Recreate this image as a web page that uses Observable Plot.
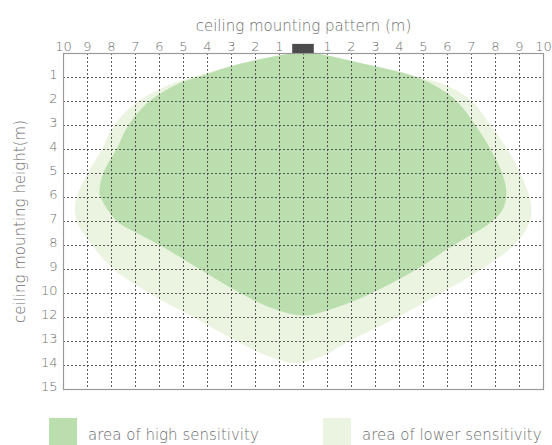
<!DOCTYPE html>
<html>
<head>
<meta charset="utf-8">
<script src="https://cdn.jsdelivr.net/npm/d3@7"></script>
<script src="https://cdn.jsdelivr.net/npm/@observablehq/plot@0.6"></script>
<style>
  html, body { margin: 0; padding: 0; background: #fff; }
  #wrap { width: 552px; height: 445px; position: relative; overflow: hidden; font-family: 'DejaVu Sans', sans-serif; font-weight: 200; color: #6e6e6e; }
  .legend { position: absolute; left: 0; top: 400px; width: 552px; height: 45px; }
  .item { position: absolute; top: 18px; display: flex; align-items: flex-end; }
  .sw { width: 28px; height: 27px; }
  .lab { font-size: 15px; margin-left: 11px; line-height: 15px; padding-bottom: 2px; }
</style>
</head>
<body>
<div id="wrap"></div>
<script>
// ---- data ----
const xTitle = "ceiling mounting pattern (m)";
const yTitle = "ceiling mounting height(m)";
const xTicks = [-10, -9, -8, -7, -6, -5, -4, -3, -2, -1, 1, 2, 3, 4, 5, 6, 7, 8, 9, 10];
const xGrid = [-9, -8, -7, -6, -5, -4, -3, -2, -1, 0, 1, 2, 3, 4, 5, 6, 7, 8, 9];
const yTicks = [1, 2, 3, 4, 5, 6, 7, 8, 9, 10, 11, 12, 13, 14];
const yTickLabels = ["1", "2", "3", "4", "5", "6", "7", "8", "9", "10", "12", "13", "14", "15"];
const yGrid = [1, 2, 3, 4, 5, 6, 7, 8, 9, 10, 11, 12, 13];
const seriesNames = ["area of high sensitivity", "area of lower sensitivity"];

// outline of the high-sensitivity area (x: m from sensor, y: m below ceiling)
const highX = [-0.45, 0.45, 2.6, 4.4, 5.5, 6.4, 7.17, 7.8, 8.28, 8.45, 8.3, 7.72, 6.9, 6.0, 4.7, 2.8, 1.3, 0, -1.2, -2.6, -4.3, -5.96, -6.9, -7.76, -8.4, -8.5, -8.35, -7.8, -7.3, -6.5, -5.3, -4.3, -2.8];
const highY = [0, 0, 0.45, 0.88, 1.35, 2.0, 3, 4, 5, 5.8, 6.5, 7.1, 7.6, 8.15, 9, 10, 10.6, 10.92, 10.65, 10, 9, 8, 7.5, 7, 6.1, 5.8, 5, 4, 3, 2.05, 1.3, 0.95, 0.47];
// outline of the lower-sensitivity area
const lowX = [-0.45, 0.45, 2.6, 4.5, 6.0, 7.03, 7.8, 8.5, 9.04, 9.42, 9.5, 9.35, 8.76, 7.4, 5.7, 3.9, 1.96, 0.8, -0.3, -1.5, -2.76, -4.57, -6.4, -7.9, -8.8, -9.35, -9.52, -9.45, -9.0, -8.4, -7.9, -6.9, -5.7, -4.5, -2.8];
const lowY = [0, 0, 0.45, 0.92, 1.35, 2, 3, 4, 5, 6, 6.6, 7.2, 8, 9, 10, 11, 11.96, 12.6, 12.9, 12.6, 12, 11, 10, 9, 8, 7.2, 6.6, 6, 5, 4, 3, 2, 1.35, 0.95, 0.47];
// sensor housing extent (m)
const sensor = [{x1: -0.45, x2: 0.45, y1: -0.38, y2: 0}];

const colors = ["#bbdeae", "#eaf4e0"];
const textColor = "#6e6e6e";

const high = highX.map((x, i) => ({x, y: highY[i]}));
const low = lowX.map((x, i) => ({x, y: lowY[i]}));

const chart = Plot.plot({
  width: 552,
  height: 400,
  marginTop: 53,
  marginBottom: 11,
  marginLeft: 63,
  marginRight: 9,
  x: {domain: [-10, 10], axis: null},
  y: {domain: [0, 14], reverse: true, axis: null},
  style: {fontFamily: "'DejaVu Sans', sans-serif", fontWeight: 200, color: textColor, background: "#fff", overflow: "visible"},
  marks: [
    Plot.line(low, {x: "x", y: "y", curve: "catmull-rom-closed", fill: colors[1], stroke: "none"}),
    Plot.line(high, {x: "x", y: "y", curve: "catmull-rom-closed", fill: colors[0], stroke: "none"}),
    Plot.gridX(xGrid, {stroke: "#4a4a4a", strokeOpacity: 0.9, strokeDasharray: "2,2"}),
    Plot.gridY(yGrid, {stroke: "#4a4a4a", strokeOpacity: 0.9, strokeDasharray: "2,2"}),
    Plot.frame({stroke: "#9a9a9a", strokeWidth: 1.2}),
    Plot.rect(sensor, {x1: "x1", x2: "x2", y1: "y1", y2: "y2", fill: "#4b4b4b", clip: false}),
    Plot.axisX(xTicks, {anchor: "top", tickSize: 0, tickPadding: 3, tickFormat: d => String(Math.abs(d)), label: null, fontSize: 13, fill: textColor}),
    Plot.axisY(yTicks, {anchor: "left", tickSize: 0, tickPadding: 6, dy: -3, tickFormat: d => yTickLabels[yTicks.indexOf(d)], label: null, fontSize: 13, fill: textColor}),
    Plot.text([xTitle], {frameAnchor: "top", dy: -33, fontSize: 15, fill: textColor}),
    Plot.text([yTitle], {frameAnchor: "left", textAnchor: "middle", dx: -43, rotate: -90, fontSize: 15, fill: textColor})
  ]
});

const wrap = document.getElementById("wrap");
wrap.appendChild(chart);

const legend = document.createElement("div");
legend.className = "legend";
const lefts = [49, 323];
seriesNames.forEach((name, i) => {
  const item = document.createElement("div");
  item.className = "item";
  item.style.left = lefts[i] + "px";
  const sw = document.createElement("div");
  sw.className = "sw";
  sw.style.background = colors[i];
  const lab = document.createElement("span");
  lab.className = "lab";
  lab.textContent = name;
  item.appendChild(sw);
  item.appendChild(lab);
  legend.appendChild(item);
});
wrap.appendChild(legend);
</script>
</body>
</html>
